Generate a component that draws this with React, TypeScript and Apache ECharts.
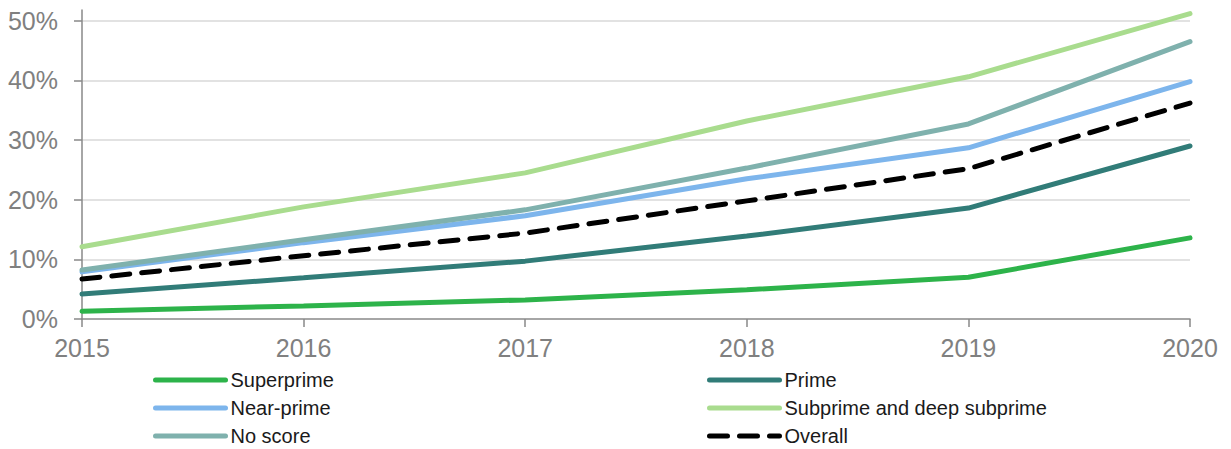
import React, { useEffect, useRef } from "react";
import * as echarts from "echarts";

const years = ["2015", "2016", "2017", "2018", "2019", "2020"];
const yTicks = [0, 10, 20, 30, 40, 50];

const superprime = [1.3, 2.2, 3.2, 4.9, 7.0, 13.6];
const prime = [4.2, 6.9, 9.7, 13.9, 18.6, 29.0];
const nearPrime = [7.9, 12.8, 17.3, 23.5, 28.7, 39.8];
const subprime = [12.1, 18.8, 24.5, 33.2, 40.6, 51.2];
const noScore = [8.2, 13.3, 18.3, 25.3, 32.7, 46.5];
const overall = [6.7, 10.6, 14.4, 19.8, 25.2, 36.2];

const seriesDefs = [
  { name: "Superprime", data: superprime, color: "#2db34a", dash: "solid" as any },
  { name: "Prime", data: prime, color: "#317c78", dash: "solid" as any },
  { name: "Near-prime", data: nearPrime, color: "#7db5ec", dash: "solid" as any },
  { name: "Subprime and deep subprime", data: subprime, color: "#a9dc8e", dash: "solid" as any },
  { name: "No score", data: noScore, color: "#7fb1ad", dash: "solid" as any },
  { name: "Overall", data: overall, color: "#000000", dash: [18, 12] as any },
];

const legendCol1 = ["Superprime", "Near-prime", "No score"];
const legendCol2 = ["Prime", "Subprime and deep subprime", "Overall"];

export default function App() {
  const ref = useRef<HTMLDivElement>(null);
  useEffect(() => {
    if (!ref.current) return;
    const chart = echarts.init(ref.current, undefined, { renderer: "svg" });
    const legendBase = {
      orient: "vertical" as const,
      top: 366,
      height: 84,
      padding: 0,
      itemWidth: 70,
      itemHeight: 14,
      itemGap: 0,
      textStyle: {
        fontFamily: "'Liberation Sans', Arial, sans-serif",
        fontSize: 20,
        color: "#1a1a1a",
        lineHeight: 28,
        height: 28,
      },
      itemStyle: { opacity: 0, borderWidth: 0 },
      lineStyle: { width: 5, cap: "round" },
    };
    chart.setOption({
      animation: false,
      backgroundColor: "#ffffff",
      grid: { left: 82, right: 41, top: 10, bottom: 130, containLabel: false },
      legend: [
        { ...legendBase, left: 153, data: legendCol1 },
        { ...legendBase, left: 707, data: legendCol2 },
      ],
      xAxis: {
        type: "category",
        data: years,
        boundaryGap: false,
        axisLine: { show: true, lineStyle: { color: "#898989", width: 1.5 } },
        axisTick: { show: true, length: 8, lineStyle: { color: "#898989", width: 1.5 } },
        axisLabel: {
          color: "#808080",
          fontSize: 25,
          margin: 16,
          fontFamily: "'Liberation Sans', Arial, sans-serif",
        },
        splitLine: { show: false },
      },
      yAxis: {
        type: "value",
        min: 0,
        max: 51.8,
        interval: 10,
        axisLine: { show: true, lineStyle: { color: "#898989", width: 1.5 } },
        axisTick: {
          show: true,
          length: 8,
          customValues: yTicks,
          lineStyle: { color: "#898989", width: 1.5 },
        },
        axisLabel: {
          color: "#808080",
          fontSize: 25,
          margin: 24,
          customValues: yTicks,
          fontFamily: "'Liberation Sans', Arial, sans-serif",
          formatter: (v: number) => `${v}%`,
        },
        splitLine: {
          show: true,
          showMinLine: false,
          lineStyle: { color: "#d9d9d9", width: 1.5 },
        },
      },
      series: seriesDefs.map((s) => ({
        name: s.name,
        type: "line",
        data: s.data,
        symbol: "none",
        showSymbol: false,
        smooth: false,
        lineStyle: { color: s.color, width: 5, type: s.dash, cap: "round" },
        itemStyle: { color: s.color },
      })),
    });
    return () => chart.dispose();
  }, []);
  return <div ref={ref} style={{ width: 1231, height: 449, position: "absolute", left: 0, top: 0 }} />;
}
